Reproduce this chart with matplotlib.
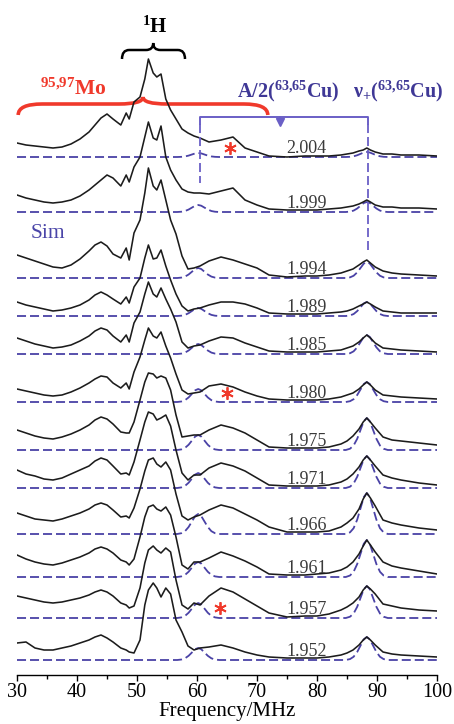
import numpy as np
import matplotlib
matplotlib.use('Agg')
import matplotlib.pyplot as plt
from matplotlib.path import Path
from matplotlib.patches import PathPatch

plt.rcParams['font.family'] = ['Liberation Serif', 'DejaVu Serif']
plt.rcParams['mathtext.fontset'] = 'custom'
plt.rcParams['mathtext.rm'] = 'Liberation Serif:bold'
plt.rcParams['mathtext.bf'] = 'Liberation Serif:bold'
plt.rcParams['mathtext.it'] = 'Liberation Serif:bold:italic'

freq = [30, 31.5, 33, 34.5, 36, 37.5, 39, 40.5, 42, 43, 44, 45, 46, 47.3, 48.2, 48.7,
        49.5, 50.5, 51.3, 51.9, 52.7, 53.3, 54.0, 54.8, 55.6, 56.5, 57.5, 58.5, 59.5,
        60.5, 62, 64, 66, 68, 70, 72, 75, 78, 80, 82, 84, 85, 86, 87, 87.7, 88.3, 88.9,
        89.7, 91, 92.5, 94, 97, 100]

g_values = ['2.004', '1.999', '1.994', '1.989', '1.985', '1.980',
            '1.975', '1.971', '1.966', '1.961', '1.957', '1.952']

# experimental ENDOR traces, height above own baseline
exp_2004 = [14, 12, 11, 10, 9, 10, 13, 18, 25, 32, 39, 43, 38, 32, 44, 38, 55, 60, 78, 98,
            84, 80, 83, 58, 47, 38, 28, 24, 21, 19, 15, 17, 20, 9, 5, 1, 0, 1, 1, 1, 2, 3,
            4, 6, 7, 9, 7, 5, 3, 3, 2, 2, 1]
exp_1999 = [17, 14, 12, 10, 9, 10, 12, 16, 22, 27, 32, 37, 34, 26, 37, 30, 45, 55, 75, 90,
            74, 72, 86, 55, 42, 32, 23, 20, 19, 19, 18, 21, 24, 12, 7, 3, 2, 2, 2, 3, 4, 5,
            6, 8, 10, 12, 10, 7, 5, 5, 4, 4, 3]
exp_1994 = [23, 20, 17, 14, 11, 10, 13, 19, 27, 33, 36, 32, 24, 20, 30, 18, 45, 58, 85, 110,
            92, 88, 98, 78, 58, 44, 22, 9, 10, 12, 17, 21, 18, 14, 10, 3, 1, 2, 2, 3, 5, 7,
            9, 13, 16, 18, 15, 11, 7, 5, 4, 3, 2]
exp_1989 = [14, 11, 9, 7, 5, 6, 8, 11, 16, 21, 24, 21, 17, 12, 19, 13, 29, 38, 58, 71,
            57, 58, 66, 50, 36, 22, 10, 5, 7, 8, 11, 14, 14, 12, 8, 3, 2, 2, 2, 3, 4, 5,
            7, 10, 12, 14, 12, 9, 5, 4, 3, 3, 3]
exp_1985 = [16, 13, 10, 8, 6, 7, 9, 13, 18, 23, 26, 24, 18, 12, 19, 12, 31, 42, 60, 72,
            60, 57, 66, 55, 45, 32, 12, 6, 8, 9, 13, 17, 16, 11, 7, 3, 2, 2, 2, 3, 4, 6,
            8, 12, 16, 19, 16, 11, 6, 5, 4, 3, 2]
exp_1980 = [13, 11, 9, 7, 6, 7, 10, 14, 19, 23, 26, 25, 19, 14, 19, 13, 30, 45, 62, 74,
            66, 64, 70, 56, 44, 28, 12, 8, 9, 10, 16, 18, 15, 10, 6, 3, 2, 2, 2, 3, 5, 7,
            9, 13, 17, 20, 17, 12, 7, 6, 5, 4, 3]
exp_1975 = [20, 17, 14, 12, 11, 13, 16, 20, 25, 30, 33, 31, 26, 18, 17, 17, 28, 50, 68, 77,
            76, 72, 74, 72, 60, 35, 13, 14, 15, 15, 20, 25, 22, 17, 10, 3, 2, 2, 2, 3, 6, 9,
            14, 21, 28, 32, 28, 22, 13, 10, 9, 7, 5]
exp_1971 = [18, 14, 12, 9, 8, 10, 14, 18, 22, 27, 30, 28, 22, 14, 15, 13, 26, 48, 66, 76,
            74, 68, 70, 73, 62, 38, 15, 8, 13, 13, 20, 25, 22, 17, 10, 3, 2, 2, 2, 3, 6, 9,
            14, 21, 28, 32, 28, 22, 13, 10, 8, 5, 3]
exp_1966 = [21, 18, 15, 14, 13, 15, 18, 21, 25, 29, 31, 29, 24, 17, 18, 16, 26, 45, 63, 74,
            76, 70, 67, 72, 64, 40, 18, 14, 17, 19, 24, 29, 26, 20, 14, 7, 2, 2, 2, 3, 7, 11,
            16, 25, 35, 41, 36, 28, 14, 11, 9, 6, 4]
exp_1961 = [22, 18, 15, 13, 12, 14, 17, 20, 24, 28, 30, 28, 24, 17, 15, 12, 18, 40, 60, 70,
            72, 68, 66, 70, 62, 40, 12, 8, 15, 15, 19, 25, 21, 16, 10, 3, 2, 2, 3, 4, 7, 10,
            15, 23, 31, 37, 32, 25, 15, 11, 9, 6, 3]
exp_1957 = [22, 20, 18, 16, 15, 16, 18, 20, 23, 26, 28, 26, 22, 15, 13, 10, 12, 30, 55, 68,
            72, 68, 65, 70, 66, 38, 13, 9, 15, 13, 22, 30, 26, 19, 12, 5, 1, 2, 2, 4, 8, 11,
            15, 21, 28, 32, 29, 24, 14, 12, 10, 8, 7]
exp_1952 = [17, 18, 12, 10, 10, 12, 14, 17, 20, 23, 25, 22, 18, 12, 10, 8, 7, 20, 55, 70,
            77, 72, 63, 72, 66, 40, 28, 14, 10, 12, 13, 15, 12, 8, 5, 3, 2, 2, 2, 3, 5, 7,
            10, 15, 20, 23, 20, 15, 8, 6, 5, 4, 3]
exp_traces = [exp_2004, exp_1999, exp_1994, exp_1989, exp_1985, exp_1980,
              exp_1975, exp_1971, exp_1966, exp_1961, exp_1957, exp_1952]

# simulated Cu lines: heights of the A/2 bump and the nu+ peak
sim_a2 = [4, 7, 10, 8, 10, 13, 15, 15, 20, 15, 15, 12]
sim_nu = [5, 10, 16, 14, 19, 20, 32, 32, 41, 37, 32, 23]
a2_pos = 60.2
nu_pos = 88.3
# line profile (offset in MHz, relative height)
shape_off = [-3.5, -2.8, -2.2, -1.6, -1.0, -0.5, 0, 0.5, 1.0, 1.6, 2.2, 2.8, 3.5]
shape_rel = [0, 0.04, 0.14, 0.35, 0.65, 0.9, 1, 0.9, 0.65, 0.35, 0.14, 0.04, 0]

# vertical stacking (axes units = pixels)
offsets = [518, 463, 397, 359, 321, 273, 225, 187, 141, 98, 57, 15]

black = '#1c1c1c'
simc = '#4a42a6'
blue = '#3f3896'
lblue = '#6a5fc6'
red = '#f0392b'


def brace(ax, x0, x1, xc, y_end, y_bar, y_tip, d, **kw):
    verts = [(x0, y_end), (x0, y_bar), (x0 + d, y_bar),
             (xc - d, y_bar), (xc, y_bar), (xc, y_tip),
             (xc, y_bar), (xc + d, y_bar),
             (x1 - d, y_bar), (x1, y_bar), (x1, y_end)]
    codes = [Path.MOVETO, Path.CURVE3, Path.CURVE3, Path.LINETO, Path.CURVE3, Path.CURVE3,
             Path.CURVE3, Path.CURVE3, Path.LINETO, Path.CURVE3, Path.CURVE3]
    ax.add_patch(PathPatch(Path(verts, codes), fill=False, clip_on=False, **kw))


fig = plt.figure(figsize=(4.54, 7.24), dpi=100)
ax = fig.add_axes([17 / 454, 49 / 724, 420 / 454, 675 / 724])

off_arr = np.array(shape_off)
rel_arr = np.array(shape_rel)
for i, tr in enumerate(exp_traces):
    base = offsets[i]
    sx = np.concatenate([[30], a2_pos + off_arr, nu_pos + off_arr, [100]])
    sy = np.concatenate([[0], sim_a2[i] * rel_arr, sim_nu[i] * rel_arr, [0]]) + base
    ax.plot(sx, sy, color=simc, lw=1.3, dashes=(5, 2.2), zorder=1)
    ax.plot(freq, np.array(tr) + base, color=black, lw=1.15, zorder=2)
    ax.text(78.3, base + 4, g_values[i], ha='center', va='baseline',
            fontsize=13, color='#3a3a3a', zorder=3)

# red asterisks on the Mo/Cu feature
ax.plot([65.5, 65.0, 63.8], [527, 282, 67], ls='none', marker=(6, 2, 0),
        ms=9, mew=1.3, color=red, zorder=4)

# 1H brace and label
brace(ax, 47.5, 58.0, 52.7, 616, 625, 632, 1.2, color='black', lw=1.8)
ax.text(53.0, 642, r'$^{1}$H', ha='center', va='baseline', fontsize=15,
        fontweight='bold', color='black', clip_on=False)

# Mo brace and label
brace(ax, 30.2, 71.8, 51.0, 560, 571, 578, 4.0, color=red, lw=2.6)
ax.text(33.8, 580, r'$^{95{,}97}$Mo', ha='left', va='baseline', fontsize=15.5,
        fontweight='bold', color=red)

# Cu bracket
ax.plot([60.5, 60.5, 88.5, 88.5], [551, 558, 558, 551], color=lblue, lw=1.4,
        clip_on=False)
ax.plot([60.5, 60.5], [551, 492], color=lblue, lw=1.3, dashes=(5, 2.2))
ax.plot([88.5, 88.5], [551, 425], color=lblue, lw=1.3, dashes=(5, 2.2))
ax.plot([73.8, 73.8], [558, 552], color=lblue, lw=1.2)
ax.plot(73.8, 553, marker='v', ms=6, color=lblue, ls='none')
ax.text(66.6, 578, r'A/2($^{63{,}65}$Cu)', ha='left', va='baseline', fontsize=14.5,
        fontweight='bold', color=blue)
ax.text(86.0, 578, r'ν$_{+}$($^{63{,}65}$Cu)', ha='left', va='baseline', fontsize=14.5,
        fontweight='bold', color=blue, clip_on=False)

ax.text(32.2, 437, 'Sim', ha='left', va='baseline', fontsize=15.5, color='#4a45a8')

ax.set_xlim(30, 100)
ax.set_ylim(0, 675)
for s in ['top', 'left', 'right']:
    ax.spines[s].set_visible(False)
ax.spines['bottom'].set_linewidth(1.0)
ax.set_yticks([])
ax.set_xticks(np.arange(30, 101, 10))
ax.set_xticks(np.arange(35, 100, 10), minor=True)
ax.tick_params(axis='x', which='major', direction='out', length=4, width=1.0,
               labelsize=14.5, pad=1.5)
ax.tick_params(axis='x', which='minor', direction='out', length=3, width=1.0)
ax.set_xlabel('Frequency/MHz', fontsize=15, labelpad=0)

fig.savefig('out.png', dpi=100)
